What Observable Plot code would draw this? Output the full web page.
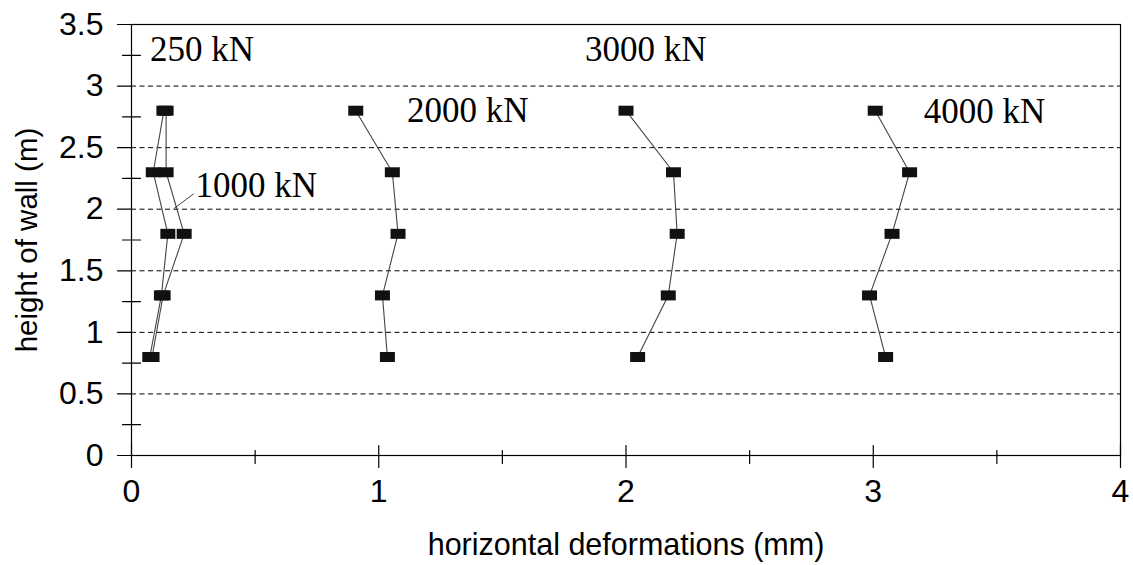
<!DOCTYPE html>
<html>
<head>
<meta charset="utf-8">
<script src="https://cdn.jsdelivr.net/npm/d3@7"></script>
<script src="https://cdn.jsdelivr.net/npm/@observablehq/plot@0.6"></script>
<style>
  html, body { margin: 0; padding: 0; background: #fff; }
</style>
</head>
<body>
<div id="chart"></div>
<script>
// ---- data ----
const heights = [0.8, 1.3, 1.8, 2.3, 2.8];               // height of wall (m)
const load250  = [0.074, 0.121, 0.147, 0.088, 0.131];   // horizontal deformation (mm)
const load1000 = [0.083, 0.128, 0.213, 0.140, 0.140];
const load2000 = [1.035, 1.015, 1.078, 1.055, 0.907];
const load3000 = [2.047, 2.171, 2.207, 2.192, 2.000];
const load4000 = [3.050, 2.985, 3.076, 3.147, 3.008];
const seriesNames = ["250 kN", "1000 kN", "2000 kN", "3000 kN", "4000 kN"];
const seriesValues = [load250, load1000, load2000, load3000, load4000];

// annotation labels (data coordinates: x in mm, y = baseline height in m)
const labelText = ["250 kN", "3000 kN", "2000 kN", "4000 kN", "1000 kN"];
const labelX    = [0.285, 2.08, 1.36, 3.45, 0.505];
const labelY    = [3.20, 3.20, 2.708, 2.70, 2.096];
const leaderLine = [{x1: 0.252, y1: 2.126, x2: 0.171, y2: 2.004}];

// axes ticks
const xTicks = [0, 1, 2, 3, 4];
const xMinorTicks = [0.5, 1.5, 2.5, 3.5];
const yTicks = [0, 0.5, 1, 1.5, 2, 2.5, 3, 3.5];
const yMinorTicks = [0.25, 0.75, 1.25, 1.75, 2.25, 2.75, 3.25];
const gridLines = [0.5, 1, 1.5, 2, 2.5, 3];

// ---- build tables ----
const points = seriesNames.flatMap((name, s) =>
  heights.map((h, i) => ({series: name, x: seriesValues[s][i], y: h})));
const labels = labelText.map((t, i) => ({text: t, x: labelX[i], y: labelY[i]}));

const rectSymbol = {draw(ctx) { ctx.rect(-7.5, -5, 15, 10); }};
const shape = (x0, y0, x1, y1) => ({draw(ctx) { ctx.moveTo(x0, y0); ctx.lineTo(x1, y1); }});

const sans = "'Liberation Sans', Arial, sans-serif";
const serif = "'Liberation Serif', 'Times New Roman', serif";

const chart = Plot.plot({
  width: 1133,
  height: 565,
  marginLeft: 131,
  marginRight: 13,
  marginTop: 24,
  marginBottom: 110,
  style: {fontFamily: sans, fontSize: "32px", color: "#000", background: "#fff"},
  x: {domain: [0, 4]},
  y: {domain: [0, 3.5]},
  marks: [
    Plot.ruleY(gridLines, {y: d => d, stroke: "#000", strokeWidth: 1, strokeDasharray: "5,3.5"}),
    Plot.frame({stroke: "#000", strokeWidth: 1.2}),
    // y ticks
    Plot.vector(yTicks, {y: d => d, frameAnchor: "left", anchor: "start", shape: shape(-14, 0, 0, 0), stroke: "#000", strokeWidth: 1.2}),
    Plot.vector(yMinorTicks, {y: d => d, frameAnchor: "left", anchor: "start", shape: shape(-9, 0, 9, 0), stroke: "#000", strokeWidth: 1.2}),
    // x ticks
    Plot.vector(xTicks, {x: d => d, frameAnchor: "bottom", anchor: "start", shape: shape(0, -10, 0, 12), stroke: "#000", strokeWidth: 1.2}),
    Plot.vector(xMinorTicks, {x: d => d, frameAnchor: "bottom", anchor: "start", shape: shape(0, -5, 0, 8), stroke: "#000", strokeWidth: 1.2}),
    Plot.axisY({ticks: yTicks, tickSize: 0, tickPadding: 28, tickFormat: d => String(d), label: null, fontSize: 32}),
    Plot.axisX({ticks: xTicks, tickSize: 0, tickPadding: 24, tickFormat: d => String(d), label: null, fontSize: 32}),
    Plot.text(["horizontal deformations (mm)"], {frameAnchor: "bottom", dy: 90, textAnchor: "middle", lineAnchor: "middle", fontSize: 30.5}),
    Plot.text(["height of wall (m)"], {frameAnchor: "left", dx: -104, rotate: -90, textAnchor: "middle", lineAnchor: "middle", fontSize: 29.5}),
    // data
    Plot.line(points, {x: "x", y: "y", z: "series", stroke: "#444", strokeWidth: 1.1}),
    Plot.dot(points, {x: "x", y: "y", symbol: rectSymbol, fill: "#111", stroke: "none"}),
    // annotations
    Plot.link(leaderLine, {x1: "x1", y1: "y1", x2: "x2", y2: "y2", stroke: "#444", strokeWidth: 1}),
    Plot.text(labels, {x: "x", y: "y", text: "text", textAnchor: "middle", lineAnchor: "bottom", fontFamily: serif, fontSize: 35, fill: "#000"})
  ]
});
document.getElementById("chart").appendChild(chart);
</script>
</body>
</html>
